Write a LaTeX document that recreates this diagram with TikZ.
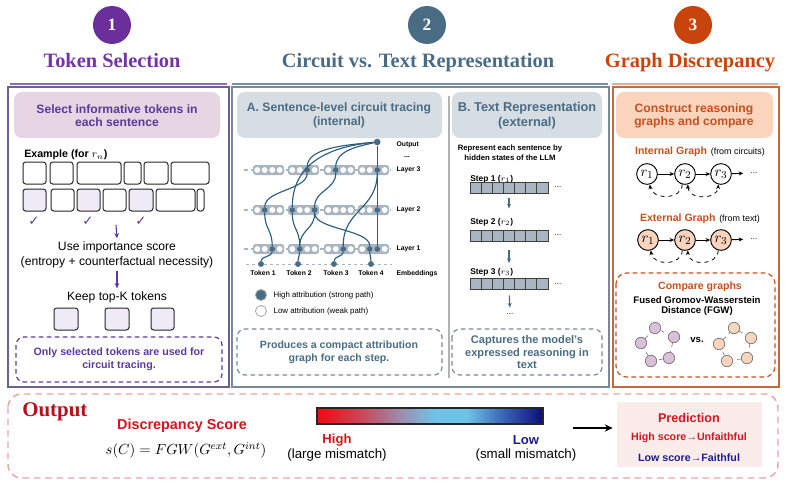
\documentclass[tikz,border=0pt]{standalone}
\usepackage{fontspec}
\setmainfont{Liberation Sans}
\newfontfamily\hdrfont{Liberation Serif}
\newfontfamily\symfont{DejaVu Sans}
\usetikzlibrary{arrows.meta,calc}
\definecolor{pur}{HTML}{6B2F9C}
\definecolor{purtitle}{HTML}{7434A4}
\definecolor{purtxt}{HTML}{5B3A9A}
\definecolor{purline}{HTML}{8E6BB5}
\definecolor{purbd}{HTML}{6D5E96}
\definecolor{purhdr}{HTML}{E6D5E2}
\definecolor{purlt}{HTML}{EEEAF6}
\definecolor{slate}{HTML}{4A6B84}
\definecolor{slateline}{HTML}{7D8FA3}
\definecolor{slatebd}{HTML}{7A899A}
\definecolor{slatehdr}{HTML}{D6DDE3}
\definecolor{cellgray}{HTML}{A9B5C0}
\definecolor{edgeblue}{HTML}{2C5C7C}
\definecolor{org}{HTML}{C9440C}
\definecolor{orgtxt}{HTML}{C5501E}
\definecolor{orgbd}{HTML}{C4693F}
\definecolor{peach}{HTML}{FAD4BD}
\definecolor{orgline}{HTML}{D9AE9E}
\definecolor{lilac}{HTML}{D9BFD9}
\definecolor{outred}{HTML}{B5121B}
\definecolor{scred}{HTML}{D0161E}
\definecolor{navy}{HTML}{1C1C8C}
\definecolor{pinkbd}{HTML}{E8A5A5}
\definecolor{predbg}{HTML}{FBECEC}
\definecolor{cbA}{HTML}{EE0F18}
\definecolor{cbB}{HTML}{C8485A}
\definecolor{cbC}{HTML}{9C90B2}
\definecolor{cbD}{HTML}{6EC4E8}
\definecolor{cbE}{HTML}{3A68B8}
\definecolor{cbF}{HTML}{0C0C78}
\pgfdeclarehorizontalshading{discshade}{100bp}{color(0bp)=(cbA); color(26bp)=(cbA); color(35bp)=(cbB); color(44bp)=(cbC); color(51bp)=(cbD); color(58bp)=(cbD); color(66bp)=(cbE); color(75bp)=(cbF); color(100bp)=(cbF)}
\newcommand\cedge[2]{\draw[edge] (#1) .. controls ($(#1)!0.5!(#1|-#2)$) and ($(#2)!0.5!(#2|-#1)$) .. (#2);}
\begin{document}
\begin{tikzpicture}[x=0.75pt,y=-0.75pt,
  hnum/.style={circle,inner sep=0pt,minimum size=28.5pt,text=white,font=\hdrfont\bfseries\fontsize{13}{13}\selectfont},
  htitle/.style={anchor=base,font=\hdrfont\bfseries\fontsize{15.3}{18}\selectfont},
  tokbox/.style={draw=black!85,line width=0.75pt,rounded corners=2pt},
  dnode/.style={circle,fill=slate,inner sep=0pt,minimum size=4.4pt},
  edge/.style={draw=edgeblue,line width=0.85pt},
  tinylbl/.style={font=\bfseries\fontsize{5.1}{6}\selectfont,inner sep=1pt},
  rnode/.style={circle,draw=black,line width=0.7pt,minimum size=15.5pt,inner sep=0pt,font=\fontsize{11}{11}\selectfont},
  gnode/.style={circle,draw=black!55,line width=0.5pt,minimum size=8.6pt,inner sep=0pt},
  arr/.style={-{Stealth[length=3.5pt,width=3pt]}},
  dashbox/.style={line width=0.9pt,dash pattern=on 3.5pt off 2.5pt,rounded corners=6pt}
]
\useasboundingbox (0,0) rectangle (786,485);

% ---------- headers ----------
\node[hnum,fill=pur] (num1) at (112,25) {1};
\node[htitle,text=purtitle] (title1) at (112,68) {Token Selection};
\node[hnum,fill=slate] (num2) at (427,25) {2};
\node[htitle,text=slate] (title2) at (418,68) {Circuit vs. Text Representation};
\node[hnum,fill=org] (num3) at (693,25) {3};
\node[htitle,text=org] (title3) at (690,68) {Graph Discrepancy};
\draw[purline,line width=1.2pt] (10,84) -- (227,84);
\draw[slateline,line width=1.2pt] (232,84) -- (608,84);
\draw[orgline,line width=1.2pt] (612,84) -- (778,84);

% ---------- panel 1 ----------
\draw[purbd,line width=1.1pt] (8,87) rectangle (229,387);
\fill[purhdr,rounded corners=6pt] (14,92) rectangle (220,138);
\node[font=\bfseries\fontsize{9.1}{9.75}\selectfont,text=purtxt,align=center] (selhdr) at (117,115.5) {Select informative tokens in\\each sentence};
\node[anchor=west,font=\bfseries\fontsize{8}{9}\selectfont,inner sep=0pt] (example) at (24,155) {Example (for $r_n$)};
\foreach \a/\b in {23/46,50/73,77/121,124/141,144/168,171/209} \draw[tokbox] (\a,162) rectangle (\b,184);
\foreach \a/\b/\f in {23/46/purlt,51/74/white,77/100/purlt,103/126/white,129/153/purlt,156/195/white,197/204/white} \draw[tokbox,fill=\f] (\a,189) rectangle (\b,211);
\foreach \x/\n in {34/ck1,88/ck2,141/ck3} \node[text=purtxt,font=\symfont\fontsize{10}{10}\selectfont] (\n) at (\x,221) {✓};
\coordinate (arrtop) at (116,225);
\node[font=\fontsize{9.1}{11.25}\selectfont,align=center,inner sep=2pt] (imp) at (117,254.5) {Use importance score\\(entropy + counterfactual necessity)};
\draw[purtxt,line width=0.8pt,-{Stealth[length=4pt,width=3.5pt]}] (arrtop) -- (imp.north);
\node[font=\fontsize{9.1}{11}\selectfont,inner sep=2pt] (keep) at (117,297) {Keep top-K tokens};
\draw[purtxt,line width=0.8pt,-{Stealth[length=4pt,width=3.5pt]}] (imp.south) -- (keep.north);
\foreach \a/\b in {54/78,105/129,151/174} \draw[tokbox,fill=purlt] (\a,308) rectangle (\b,330);
\draw[purtxt,dashbox] (16,337) rectangle (222,382);
\node[font=\bfseries\fontsize{8}{9.75}\selectfont,text=purtxt,align=center] (only) at (119,359.5) {Only selected tokens are used for\\circuit tracing.};

% ---------- panel 2 ----------
\draw[slatebd,line width=1.1pt] (232,87) rectangle (609,387);
\draw[black!30,line width=0.8pt] (449,96) -- (449,378);
\fill[slatehdr,rounded corners=6pt] (237,92) rectangle (442,138);
\node[font=\bfseries\fontsize{9.1}{10.5}\selectfont,text=slate,align=center] (ahdr) at (339,115) {A. Sentence-level circuit tracing\\(internal)};
\fill[slatehdr,rounded corners=6pt] (452,92) rectangle (602,138);
\node[font=\bfseries\fontsize{9.6}{11.5}\selectfont,text=slate,align=center] (bhdr) at (527,116) {B. Text Representation\\(external)};

% circuit layers
\foreach \ly in {170,210,249}{
  \draw[cellgray,line width=0.9pt,dash pattern=on 3pt off 2.2pt] (244,\ly) -- (390,\ly);
  \foreach \gx in {253,288,324,358}{
    \fill[cellgray,rounded corners=2pt] (\gx,\ly-5) rectangle (\gx+31,\ly+5);
    \foreach \k in {0,1,2,3}{
      \fill[white] (\gx+4.3+7.45*\k,\ly) circle (2.2pt);
    }
  }
}
\draw[cellgray,line width=0.7pt,dash pattern=on 2.5pt off 2pt] (246,264) -- (392,264);
\node[dnode,minimum size=5pt] (Out) at (377.2,142) {};
\node[dnode] (L3a) at (307.2,170) {};
\node[dnode] (L3b) at (335.75,170) {};
\node[dnode] (L3c) at (377.2,170) {};
\node[dnode] (L2a) at (264.75,210) {};
\node[dnode] (L2b) at (292.3,210) {};
\node[dnode] (L2c) at (314.65,210) {};
\node[dnode] (L2d) at (377.2,210) {};
\node[dnode] (L1a) at (272.2,249) {};
\node[dnode] (L1b) at (299.75,249) {};
\node[dnode] (L1c) at (343.2,249) {};
\node[dnode] (L1d) at (369.75,249) {};
\node[dnode] (L1e) at (377.2,249) {};
\node[dnode] (T1) at (261,264) {};
\node[dnode] (T2) at (298,264) {};
\node[dnode] (T3) at (334,264) {};
\node[dnode] (T4) at (371,264) {};
\draw[edge] (Out) .. controls (345,145) and (307.2,148) .. (L3a);
\draw[edge] (Out) .. controls (360,146) and (335.75,150) .. (L3b);
\draw[edge] (Out) .. controls (335,146) and (292.3,160) .. (L2b);
\draw[edge] (Out) -- (L3c);
\draw[edge] (L3c) -- (L2d);
\draw[edge] (L2d) -- (L1e);
\cedge{L3a}{L2a}
\cedge{L3b}{L2c}
\cedge{L3c}{L1c}
\cedge{L2a}{L1a}
\cedge{L2b}{L1b}
\cedge{L2c}{L1b}
\cedge{L2c}{L1d}
\cedge{L1a}{T1}
\cedge{L1b}{T2}
\cedge{L1c}{T3}
\cedge{L1d}{T4}
\node[tinylbl,anchor=west] (outlbl) at (395,145) {Output};
\node[tinylbl] (outdots) at (407,157) {...};
\node[tinylbl,anchor=west] (lay3) at (395,170) {Layer 3};
\node[tinylbl,anchor=west] (lay2) at (395,210) {Layer 2};
\node[tinylbl,anchor=west] (lay1) at (395,249) {Layer 1};
\node[tinylbl] (tk1) at (263,273.5) {Token 1};
\node[tinylbl] (tk2) at (299,273.5) {Token 2};
\node[tinylbl] (tk3) at (336,273.5) {Token 3};
\node[tinylbl] (tk4) at (371,273.5) {Token 4};
\node[tinylbl] (emb) at (417,273.5) {Embeddings};
\node[circle,fill=slate,draw=black!35,line width=0.6pt,minimum size=8.3pt,inner sep=0pt] (hi) at (261,295) {};
\node[circle,fill=white,draw=black!35,line width=0.6pt,minimum size=8.3pt,inner sep=0pt] (lo) at (261,311) {};
\node[anchor=west,font=\fontsize{5.9}{7}\selectfont] (hitxt) at (269,295) {High attribution (strong path)};
\node[anchor=west,font=\fontsize{5.9}{7}\selectfont] (lotxt) at (269,311) {Low attribution (weak path)};
\draw[slatebd,dashbox] (237,329) rectangle (442,375);
\node[font=\bfseries\fontsize{7.9}{10}\selectfont,text=slate,align=center] (prod) at (339,352) {Produces a compact attribution\\graph for each step.};

% text representation
\node[font=\bfseries\fontsize{5.8}{7.5}\selectfont,align=center] (rep) at (510,153) {Represent each sentence by\\hidden states of the LLM};
\node[anchor=west,font=\bfseries\fontsize{6.3}{7}\selectfont,inner sep=0pt] (st1) at (470,179) {Step 1 ($r_1$)};
\node[anchor=west,font=\bfseries\fontsize{6.3}{7}\selectfont,inner sep=0pt] (st2) at (470,222) {Step 2 ($r_2$)};
\node[anchor=west,font=\bfseries\fontsize{6.3}{7}\selectfont,inner sep=0pt] (st3) at (470,272) {Step 3 ($r_3$)};
\foreach \n/\yy in {bar1/187.5,bar2/235.5,bar3/284}{
  \node[rectangle,fill=cellgray,draw=black!75,line width=0.7pt,minimum width=58.5pt,minimum height=8.25pt,inner sep=0pt] (\n) at (509,\yy) {};
  \foreach \k in {1,...,6} \draw[black!75,line width=0.6pt] (470+11.14*\k,\yy-5.5) -- (470+11.14*\k,\yy+5.5);
  \node[font=\fontsize{6}{6}\selectfont] (\n dots) at (558,\yy) {...};
}
\node[font=\fontsize{6}{6}\selectfont] (bdots) at (510,314) {...};
\draw[slate,line width=0.8pt,arr,shorten <=3.75pt,shorten >=15.75pt] (bar1.south) -- (bar2.north);
\draw[slate,line width=0.8pt,arr,shorten <=6.75pt,shorten >=11.25pt] (bar2.south) -- (bar3.north);
\draw[slate,line width=0.8pt,arr,shorten <=4pt,shorten >=1pt] (bar3.south) -- (bdots.north);
\draw[slatebd,dashbox] (452,329) rectangle (602,375);
\node[font=\bfseries\fontsize{8.3}{9.4}\selectfont,text=slate,align=center] (capt) at (527,352.5) {Captures the model's\\expressed reasoning in\\text};

% ---------- panel 3 ----------
\draw[orgbd,line width=1.1pt] (613,87) rectangle (779,387);
\fill[peach,rounded corners=6pt] (616,92) rectangle (773,138);
\node[font=\bfseries\fontsize{9.1}{9.75}\selectfont,text=orgtxt,align=center] (chdr) at (694,115.5) {Construct reasoning\\graphs and compare};
\node (intlbl) at (700,152) {{\bfseries\fontsize{7.9}{9}\selectfont\color{orgtxt}Internal Graph} {\fontsize{6.7}{8}\selectfont(from circuits)}};
\node[rnode,fill=white] (ir1) at (647,174) {$r_1$};
\node[rnode,fill=white] (ir2) at (685,174) {$r_2$};
\node[rnode,fill=white] (ir3) at (721,174) {$r_3$};
\node[font=\fontsize{6}{6}\selectfont] (idots) at (754,173) {...};
\draw[arr,line width=0.7pt] (ir1) -- (ir2);
\draw[arr,line width=0.7pt] (ir2) -- (ir3);
\draw[arr,line width=0.7pt,shorten >=2pt] (ir3) -- (idots);
\draw[arr,dashed,line width=0.6pt] (ir2.255) .. controls (682,200) and (652,200) .. (ir1.285);
\draw[{Stealth[length=3.5pt,width=3pt]}-{Stealth[length=3.5pt,width=3pt]},dashed,line width=0.6pt] (ir2.285) .. controls (688,200) and (718,200) .. (ir3.255);
\node (extlbl) at (700,219) {{\bfseries\fontsize{7.9}{9}\selectfont\color{orgtxt}External Graph} {\fontsize{6.7}{8}\selectfont(from text)}};
\node[rnode,fill=peach] (er1) at (648,240) {$r_1$};
\node[rnode,fill=peach] (er2) at (685,240) {$r_2$};
\node[rnode,fill=peach] (er3) at (721,240) {$r_3$};
\node[font=\fontsize{6}{6}\selectfont] (edots) at (754,239) {...};
\draw[arr,line width=0.7pt] (er1) -- (er2);
\draw[arr,line width=0.7pt] (er2) -- (er3);
\draw[arr,line width=0.7pt,shorten >=2pt] (er3) -- (edots);
\draw[arr,dashed,line width=0.6pt] (er2.255) .. controls (682,266) and (653,266) .. (er1.285);
\draw[arr,dashed,line width=0.6pt] (er3.255) .. controls (718,266) and (688,266) .. (er2.285);
\draw[orgtxt,dashbox,rounded corners=8pt] (616,273) rectangle (775,377);
\node[font=\bfseries\fontsize{7.9}{9}\selectfont,text=orgtxt] (cmp) at (700,287) {Compare graphs};
\node[font=\bfseries\fontsize{7.2}{7.8}\selectfont,align=center] (fgw) at (697,306) {Fused Gromov-Wasserstein\\Distance (FGW)};
\node[gnode,fill=lilac] (p1) at (655,328) {};
\node[gnode,fill=lilac] (p2) at (674,337) {};
\node[gnode,fill=lilac] (p3) at (669,358) {};
\node[gnode,fill=lilac] (p4) at (651,361) {};
\node[gnode,fill=lilac] (p5) at (641,343) {};
\draw[black!50,dashed,line width=0.5pt] (p1) -- (p2) -- (p3) -- (p4) -- (p5) -- (p1);
\node[gnode,fill=peach] (q1) at (734,328) {};
\node[gnode,fill=peach] (q2) at (751,338) {};
\node[gnode,fill=peach] (q3) at (747,358) {};
\node[gnode,fill=peach] (q4) at (727,361) {};
\node[gnode,fill=peach] (q5) at (719,344) {};
\draw[black!50,dashed,line width=0.5pt] (q1) -- (q2) -- (q3) -- (q4) -- (q5) -- (q1);
\node[font=\bfseries\fontsize{7.2}{8}\selectfont] (vs) at (697,340) {vs.};

% ---------- output ----------
\draw[pinkbd,line width=1.1pt,dash pattern=on 5pt off 3.5pt,rounded corners=10pt] (8,394) rectangle (778,478);
\node[font=\hdrfont\bfseries\fontsize{15.7}{18}\selectfont,text=outred,anchor=base west,inner sep=0pt] (outttl) at (22,416) {Output};
\node[font=\bfseries\fontsize{10.8}{12}\selectfont,text=scred] (dscore) at (182,426) {Discrepancy Score};
\node[font=\fontsize{11}{12}\selectfont] (formula) at (186,450) {$s(C) = FGW(G^{ext}, G^{int})$};
\node[shading=discshade,draw=black!85,line width=0.9pt,minimum width=169.5pt,minimum height=12pt,inner sep=0pt] (cbar) at (430,416) {};
\node[font=\bfseries\fontsize{9.8}{11}\selectfont,text=scred] (high) at (337,440) {High};
\node[font=\fontsize{10}{11}\selectfont] (highsub) at (337,455) {(large mismatch)};
\node[font=\bfseries\fontsize{9.8}{11}\selectfont,text=navy] (low) at (526,440) {Low};
\node[font=\fontsize{10}{11}\selectfont] (lowsub) at (526,455) {(small mismatch)};
\node[fill=predbg,minimum width=108.75pt,minimum height=48.75pt,inner sep=0pt] (pred) at (689.5,434.5) {};
\coordinate (arrstart) at (573,428);
\draw[line width=1.6pt,-{Stealth[length=6pt,width=5.5pt]},shorten >=3pt] (arrstart) -- (arrstart -| pred.west);
\node[font=\bfseries\fontsize{9.5}{11}\selectfont,text=scred] (predt) at (689,418) {Prediction};
\node[font=\bfseries\fontsize{8}{9}\selectfont,text=scred] (predh) at (689,438) {High score→Unfaithful};
\node[font=\bfseries\fontsize{8}{9}\selectfont,text=navy] (predl) at (689,458) {Low score→Faithful};
\end{tikzpicture}
\end{document}
